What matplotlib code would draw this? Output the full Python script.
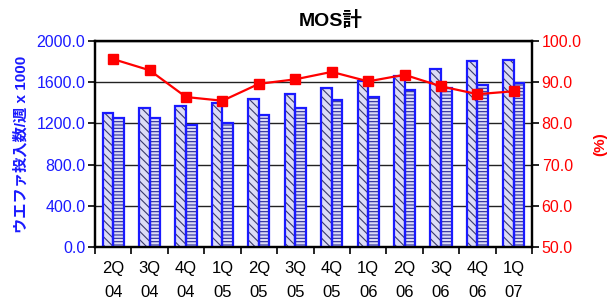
import numpy as np
import matplotlib
matplotlib.use("Agg")
import matplotlib.pyplot as plt

plt.rcParams['font.family'] = ['Liberation Sans', 'Noto Sans CJK JP', 'DejaVu Sans']
plt.rcParams['hatch.linewidth'] = 0.8

quarters = ["2Q\n04", "3Q\n04", "4Q\n04", "1Q\n05", "2Q\n05", "3Q\n05",
            "4Q\n05", "1Q\n06", "2Q\n06", "3Q\n06", "4Q\n06", "1Q\n07"]
wafer_a = [1300, 1346, 1369, 1401, 1434, 1482, 1540, 1612, 1660, 1725, 1803, 1815]
wafer_b = [1249, 1250, 1184, 1200, 1281, 1352, 1427, 1456, 1524, 1540, 1573, 1595]
rate = [95.6, 92.9, 86.4, 85.5, 89.6, 90.7, 92.5, 90.2, 91.8, 89.0, 87.1, 87.8]

blue = '#1a1aff'
red = '#ff0000'

fig = plt.figure(figsize=(6.11, 3.02), dpi=100)
ax = fig.add_axes([95/611, 1-247/302, (532-95)/611, (247-41)/302])

x = np.arange(len(quarters))
w = 0.29
# filled + hatched bars, then blue outlines on top
ax.bar(x - w/2, wafer_a, w, color='#dcdcf6', hatch='\\\\\\\\', edgecolor='#3a3a6a', linewidth=0, zorder=3)
ax.bar(x - w/2, wafer_a, w, fill=False, edgecolor=blue, linewidth=1.6, zorder=4)
ax.bar(x + w/2, wafer_b, w, color='#dcdcf6', hatch='-----', edgecolor='#2a2a9a', linewidth=0, zorder=3)
ax.bar(x + w/2, wafer_b, w, fill=False, edgecolor=blue, linewidth=1.6, zorder=4)

ax.set_xlim(-0.5, len(quarters) - 0.5)
ax.set_ylim(0, 2000)
ax.set_yticks(np.arange(0, 2001, 400))
ax.set_yticklabels(["%.1f" % v for v in np.arange(0, 2001, 400)], color=blue, fontsize=11.5)
ax.yaxis.grid(True, color='#222222', linewidth=1, zorder=0)
ax.set_axisbelow(True)
ax.set_ylabel("ウエファ投入数/週 x 1000", color=blue, fontsize=11, fontweight='bold', labelpad=6)

ax.set_xticks(x)
ax.set_xticklabels(quarters, fontsize=12, linespacing=1.75)
ax.tick_params(axis='x', length=0, pad=10)
ax.set_xticks(np.arange(-0.5, len(quarters), 1), minor=True)
ax.tick_params(axis='x', which='minor', length=5, width=1.2, direction='out')
ax.tick_params(axis='y', length=5, width=1.2, direction='out', pad=2)

for s in ax.spines.values():
    s.set_linewidth(1.6)
    s.set_color('black')

ax2 = ax.twinx()
ax2.plot(x, rate, color=red, linewidth=1.6, marker='s', markersize=7, zorder=5)
ax2.set_ylim(50, 100)
ax2.set_yticks(np.arange(50, 101, 10))
ax2.set_yticklabels(["%.1f" % v for v in np.arange(50, 101, 10)], color=red, fontsize=11.5)
ax2.tick_params(axis='y', length=5, width=1.2, direction='out', pad=2)
ax2.set_ylabel("(%)", color=red, fontsize=11, fontweight='bold', labelpad=8)
for s in ax2.spines.values():
    s.set_linewidth(1.6)

fig.text(331/611, 1-20/302, "MOS計", ha='center', va='center', fontsize=14, fontweight='bold')

fig.savefig("out.png", dpi=100)
